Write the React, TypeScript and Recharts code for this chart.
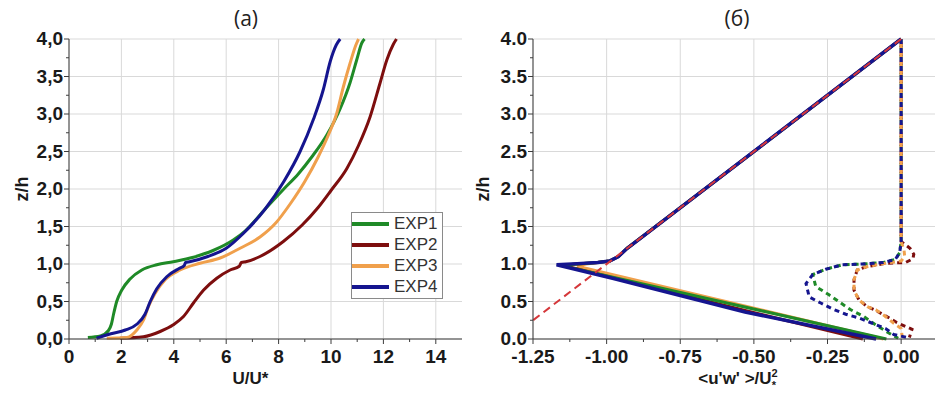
import { LineChart, Line, XAxis, YAxis, CartesianGrid, Legend, Label } from 'recharts'

// (a) U/U* vs z/h, pairs of [U/U*, z/h]
const U_EXP1 = [[0.72, 0.02], [1.2, 0.04], [1.5, 0.11], [1.62, 0.2], [1.7, 0.33], [1.82, 0.5], [2.01, 0.65], [2.33, 0.8], [2.78, 0.92], [3.35, 0.99], [3.98, 1.03], [4.75, 1.09], [5.5, 1.18], [6.27, 1.32], [6.72, 1.44], [7.48, 1.73], [8.2, 2.0], [8.75, 2.2], [9.25, 2.42], [9.84, 2.72], [10.35, 3.07], [10.73, 3.42], [10.98, 3.72], [11.18, 3.95], [11.28, 4.0]]
const U_EXP2 = [[1.95, 0.01], [2.84, 0.03], [3.48, 0.1], [3.98, 0.19], [4.37, 0.3], [4.75, 0.48], [5.13, 0.65], [5.64, 0.81], [6.15, 0.92], [6.5, 0.97], [6.58, 1.02], [6.75, 1.03], [7.29, 1.1], [8.18, 1.3], [8.9, 1.52], [9.5, 1.75], [10.0, 1.98], [10.6, 2.27], [11.05, 2.58], [11.49, 2.96], [11.87, 3.41], [12.13, 3.72], [12.38, 3.93], [12.5, 4.0]]
const U_EXP3 = [[1.44, 0.01], [2.21, 0.02], [2.59, 0.12], [2.84, 0.25], [3.03, 0.43], [3.29, 0.61], [3.67, 0.79], [4.24, 0.92], [5.0, 1.01], [5.77, 1.08], [6.53, 1.21], [7.29, 1.36], [7.9, 1.55], [8.44, 1.8], [9.0, 2.1], [9.5, 2.42], [9.9, 2.72], [10.22, 3.01], [10.47, 3.36], [10.73, 3.68], [10.95, 3.92], [11.05, 4.0]]
const U_EXP4 = [[1.05, 0.01], [1.6, 0.07], [2.15, 0.12], [2.6, 0.2], [2.9, 0.33], [3.1, 0.5], [3.35, 0.67], [3.73, 0.83], [4.2, 0.94], [4.4, 0.98], [4.45, 1.02], [4.6, 1.03], [5.3, 1.1], [6.0, 1.21], [6.66, 1.41], [7.48, 1.73], [8.2, 2.1], [8.82, 2.5], [9.33, 2.93], [9.71, 3.33], [9.97, 3.7], [10.2, 3.92], [10.35, 4.0]]

// (б) <u'w'>/U*^2 vs z/h, total stress (solid)
const TAU_EXP1 = [[0, 4], [-0.93, 1.21], [-0.96, 1.1], [-0.99, 1.04], [-1.03, 1.02], [-1.1, 1.0], [-1.16, 0.985], [-0.05, 0]]
const TAU_EXP2 = [[0, 4], [-0.93, 1.21], [-0.96, 1.1], [-0.99, 1.04], [-1.03, 1.02], [-1.1, 1.0], [-1.15, 0.985], [-0.53, 0.38], [-0.13, 0]]
const TAU_EXP3 = [[0, 4], [-0.93, 1.21], [-0.96, 1.1], [-0.99, 1.04], [-1.03, 1.02], [-1.07, 1.0], [-1.1, 0.97], [-0.06, 0]]
const TAU_EXP4 = [[0, 4], [-0.93, 1.21], [-0.96, 1.1], [-0.99, 1.04], [-1.03, 1.02], [-1.1, 1.005], [-1.17, 0.99], [-0.98, 0.81], [-0.53, 0.36], [-0.085, 0]]
// linear stress line (dashed)
const TAU_LINEAR = [[0, 4], [-1.25, 0.25]]
// turbulent parts (dotted)
const TURB_EXP1 = [[0, 4], [0, 1.3], [-0.005, 1.15], [-0.02, 1.06], [-0.06, 1.02], [-0.13, 1.0], [-0.2, 0.99], [-0.256, 0.93], [-0.3, 0.86], [-0.29, 0.7], [-0.245, 0.59], [-0.205, 0.48], [-0.171, 0.39], [-0.127, 0.3], [-0.087, 0.19], [-0.042, 0.08], [-0.01, 0.01]]
const TURB_EXP2 = [[0, 4], [0, 1.3], [0.03, 1.21], [0.043, 1.13], [0.04, 1.07], [0.015, 1.02], [-0.053, 1.01], [-0.121, 0.96], [-0.149, 0.92], [-0.16, 0.79], [-0.16, 0.65], [-0.143, 0.52], [-0.115, 0.43], [-0.086, 0.38], [-0.049, 0.3], [-0.015, 0.22], [0.037, 0.13], [0.028, 0.02]]
const TURB_EXP3 = [[0, 4], [0, 1.3], [0.01, 1.18], [0.012, 1.1], [0.0, 1.04], [-0.053, 1.01], [-0.121, 0.96], [-0.149, 0.92], [-0.16, 0.79], [-0.16, 0.65], [-0.143, 0.52], [-0.115, 0.43], [-0.086, 0.39], [-0.053, 0.3], [-0.025, 0.21], [0.0, 0.14], [0.004, 0.02]]
const TURB_EXP4 = [[0, 4], [0, 1.3], [-0.005, 1.15], [-0.02, 1.06], [-0.06, 1.02], [-0.13, 1.0], [-0.2, 0.99], [-0.256, 0.93], [-0.3, 0.86], [-0.323, 0.74], [-0.312, 0.56], [-0.273, 0.48], [-0.233, 0.4], [-0.188, 0.33], [-0.143, 0.28], [-0.098, 0.21], [-0.053, 0.14], [-0.025, 0.06], [0.02, 0.02]]

const SERIES_NAMES = ['EXP1', 'EXP2', 'EXP3', 'EXP4']

// ticks
const Z_MAJOR = [0, 0.5, 1, 1.5, 2, 2.5, 3, 3.5, 4]
const Z_MINOR = [0.25, 0.75, 1.25, 1.75, 2.25, 2.75, 3.25, 3.75]
const U_MAJOR = [0, 2, 4, 6, 8, 10, 12, 14]
const U_MINOR = [1, 3, 5, 7, 9, 11, 13]
const TAU_MAJOR = [-1.25, -1, -0.75, -0.5, -0.25, 0]
const TAU_MINOR = [-1.125, -0.875, -0.625, -0.375, -0.125]

const COLORS = ['#1f8a27', '#7d0e0e', '#f0a04c', '#15158f']
// dash offsets so the shared vertical part at x = 0 shows mixed colours
const DOT_OFFSETS = [2, 6, 4, 0]
const DASH_RED = '#d5373a'
const AXIS = '#3c3c3c'
const GRID = '#d9d9d9'
const FONT = '"Liberation Sans", Arial, sans-serif'

const toPts = (arr: number[][]) => arr.map(([x, z]) => ({ x, z }))

type Side = 'bottom' | 'left' | 'top' | 'right'

function makeTick(side: Side, majors: number[], fmt?: (v: number) => string) {
  return (props: any) => {
    const { x, y, payload } = props
    const v = payload.value
    const major = majors.some(m => Math.abs(m - v) < 1e-9)
    const len = major ? 5 : 3
    let line
    if (side === 'bottom' || side === 'top') line = <line x1={x} x2={x} y1={y} y2={y + len} stroke={AXIS} />
    else line = <line x1={x - len} x2={x} y1={y} y2={y} stroke={AXIS} />
    let label = null
    if (major && fmt) {
      if (side === 'bottom') {
        label = <text x={x} y={y + 24} textAnchor="middle" fontSize={19} fontWeight="bold" fill="#1a1a1a" fontFamily={FONT}>{fmt(v)}</text>
      } else if (side === 'left') {
        label = <text x={x - 6} y={y + 6} textAnchor="end" fontSize={19} fontWeight="bold" fill="#1a1a1a" fontFamily={FONT}>{fmt(v)}</text>
      }
    }
    return <g>{line}{label}</g>
  }
}

function LegendBox(props: any) {
  const items = (props.payload || []).filter((p: any) => SERIES_NAMES.includes(p.value))
  return (
    <div style={{ border: '1px solid #8a8a8a', background: '#fff', padding: '0 0 1px 0', width: 90 }}>
      {items.map((p: any) => (
        <div key={p.value} style={{ display: 'flex', alignItems: 'center', height: 21 }}>
          <span style={{ display: 'inline-block', width: 37, height: 4, background: p.color }} />
          <span style={{ marginLeft: 5, fontSize: 17, color: '#333', fontFamily: FONT }}>{p.value}</span>
        </div>
      ))}
    </div>
  )
}

function ZLabel(offsetX: number) {
  return (props: any) => {
    const vb = props.viewBox
    const cx = vb.x + offsetX
    const cy = vb.y + vb.height / 2
    return (
      <text x={cx} y={cy} transform={`rotate(-90 ${cx} ${cy})`} textAnchor="middle" dominantBaseline="central"
        fontSize={18} fontWeight="bold" fill="#1a1a1a" fontFamily={FONT}>z/h</text>
    )
  }
}

function ULabel(props: any) {
  const vb = props.viewBox
  return (
    <text x={vb.x + vb.width / 2 - 15} y={vb.y + 45} textAnchor="middle" fontSize={17} fontWeight="bold" fill="#1a1a1a" fontFamily={FONT}>U/U*</text>
  )
}

function TauLabel(props: any) {
  const vb = props.viewBox
  return (
    <text x={vb.x + vb.width / 2 + 4} y={vb.y + 45} textAnchor="middle" fontSize={17} fontWeight="bold" fill="#1a1a1a" fontFamily={FONT}>
      {"<u'w' >/U"}
      <tspan dy={-7} fontSize={11}>2</tspan>
      <tspan dx={-6} dy={12} fontSize={11}>*</tspan>
    </text>
  )
}

const fmtComma = (v: number) => v.toFixed(1).replace('.', ',')
const fmtInt = (v: number) => String(v)
const fmtDot1 = (v: number) => v.toFixed(1)
const fmtDot2 = (v: number) => v.toFixed(2)

const titleStyle = {
  position: 'absolute' as const, top: 4, fontSize: 21, color: '#222',
  fontFamily: '"Open Sans", "Noto Sans", sans-serif', transform: 'translateX(-50%)',
}

function VelocityPanel() {
  const data = [U_EXP1, U_EXP2, U_EXP3, U_EXP4]
  return (
    <LineChart width={470} height={393} margin={{ top: 39, right: 8, bottom: 24, left: 9 }}>
      <CartesianGrid xAxisId="b" yAxisId="l" stroke={GRID} verticalValues={U_MAJOR} horizontalValues={Z_MAJOR} />
      <XAxis xAxisId="b" dataKey="x" type="number" domain={[0, 15]} ticks={[...U_MAJOR, ...U_MINOR]} interval={0}
        height={30} tickSize={0} tickMargin={0} tickLine={false} stroke={AXIS} tick={makeTick('bottom', U_MAJOR, fmtInt)}>
        <Label content={ULabel} />
      </XAxis>
      <XAxis xAxisId="t" dataKey="x" type="number" orientation="top" mirror domain={[0, 15]} ticks={[...U_MAJOR, ...U_MINOR]}
        interval={0} height={0} tickSize={0} tickMargin={0} tickLine={false} stroke={AXIS} tick={makeTick('top', U_MAJOR)} />
      <YAxis yAxisId="l" type="number" domain={[0, 4]} ticks={[...Z_MAJOR, ...Z_MINOR]} interval={0} width={60}
        tickSize={0} tickMargin={0} tickLine={false} stroke={AXIS} tick={makeTick('left', Z_MAJOR, fmtComma)}>
        <Label content={ZLabel(13)} />
      </YAxis>
      <YAxis yAxisId="r" type="number" orientation="right" mirror domain={[0, 4]} ticks={[...Z_MAJOR, ...Z_MINOR]} interval={0}
        width={0} tickSize={0} tickMargin={0} tickLine={false} stroke={AXIS} tick={makeTick('right', Z_MAJOR)} />
      {data.map((d, i) => (
        <Line key={SERIES_NAMES[i]} name={SERIES_NAMES[i]} xAxisId="b" yAxisId="l" data={toPts(d)} dataKey="z"
          type="monotone" stroke={COLORS[i]} strokeWidth={3} dot={false} activeDot={false} isAnimationActive={false} />
      ))}
      <Legend layout="vertical" align="center" verticalAlign="middle" content={LegendBox}
        wrapperStyle={{ left: 351, top: 212, width: 92 }} />
    </LineChart>
  )
}

function StressPanel() {
  const solid = [TAU_EXP3, TAU_EXP2, TAU_EXP1, TAU_EXP4]
  const solidIdx = [2, 1, 0, 3]
  const dotted = [TURB_EXP1, TURB_EXP2, TURB_EXP3, TURB_EXP4]
  const allTicks = [...TAU_MAJOR, ...TAU_MINOR]
  return (
    <LineChart width={469} height={393} margin={{ top: 39, right: 4, bottom: 24, left: 3 }}>
      <CartesianGrid xAxisId="b" yAxisId="l" stroke={GRID} verticalValues={TAU_MAJOR} horizontalValues={Z_MAJOR} />
      <XAxis xAxisId="b" dataKey="x" type="number" domain={[-1.25, 0.115]} ticks={allTicks} interval={0}
        height={30} tickSize={0} tickMargin={0} tickLine={false} stroke={AXIS} tick={makeTick('bottom', TAU_MAJOR, fmtDot2)}>
        <Label content={TauLabel} />
      </XAxis>
      <XAxis xAxisId="t" dataKey="x" type="number" orientation="top" mirror domain={[-1.25, 0.115]} ticks={allTicks}
        interval={0} height={0} tickSize={0} tickMargin={0} tickLine={false} stroke={AXIS} tick={makeTick('top', TAU_MAJOR)} />
      <YAxis yAxisId="l" type="number" domain={[0, 4]} ticks={[...Z_MAJOR, ...Z_MINOR]} interval={0} width={60}
        tickSize={0} tickMargin={0} tickLine={false} stroke={AXIS} tick={makeTick('left', Z_MAJOR, fmtDot1)}>
        <Label content={ZLabel(10)} />
      </YAxis>
      <YAxis yAxisId="r" type="number" orientation="right" mirror domain={[0, 4]} ticks={[...Z_MAJOR, ...Z_MINOR]} interval={0}
        width={0} tickSize={0} tickMargin={0} tickLine={false} stroke={AXIS} tick={makeTick('right', Z_MAJOR)} />
      {dotted.map((d, i) => (
        <Line key={'turb' + i} name={'turb' + SERIES_NAMES[i]} xAxisId="b" yAxisId="l" data={toPts(d)} dataKey="z"
          type="linear" stroke={COLORS[i]} strokeWidth={3} strokeDasharray="5 4" strokeDashoffset={DOT_OFFSETS[i]}
          dot={false} activeDot={false} isAnimationActive={false} />
      ))}
      {solid.map((d, k) => (
        <Line key={'tau' + k} name={'tau' + SERIES_NAMES[solidIdx[k]]} xAxisId="b" yAxisId="l" data={toPts(d)} dataKey="z"
          type="linear" stroke={COLORS[solidIdx[k]]} strokeWidth={k === 3 ? 3.5 : 3} dot={false} activeDot={false}
          isAnimationActive={false} />
      ))}
      <Line name="linear" xAxisId="b" yAxisId="l" data={toPts(TAU_LINEAR)} dataKey="z" type="linear"
        stroke={DASH_RED} strokeWidth={2} strokeDasharray="8 5" dot={false} activeDot={false} isAnimationActive={false} />
    </LineChart>
  )
}

export default function App() {
  return (
    <div style={{ position: 'absolute', left: 0, top: 0, width: 939, height: 393, background: '#fff', fontFamily: FONT }}>
      <div style={{ position: 'absolute', left: 0, top: 0 }}>
        <VelocityPanel />
      </div>
      <div style={{ position: 'absolute', left: 470, top: 0 }}>
        <StressPanel />
      </div>
      <div style={{ ...titleStyle, left: 246 }}>(a)</div>
      <div style={{ ...titleStyle, left: 737 }}>(б)</div>
    </div>
  )
}
